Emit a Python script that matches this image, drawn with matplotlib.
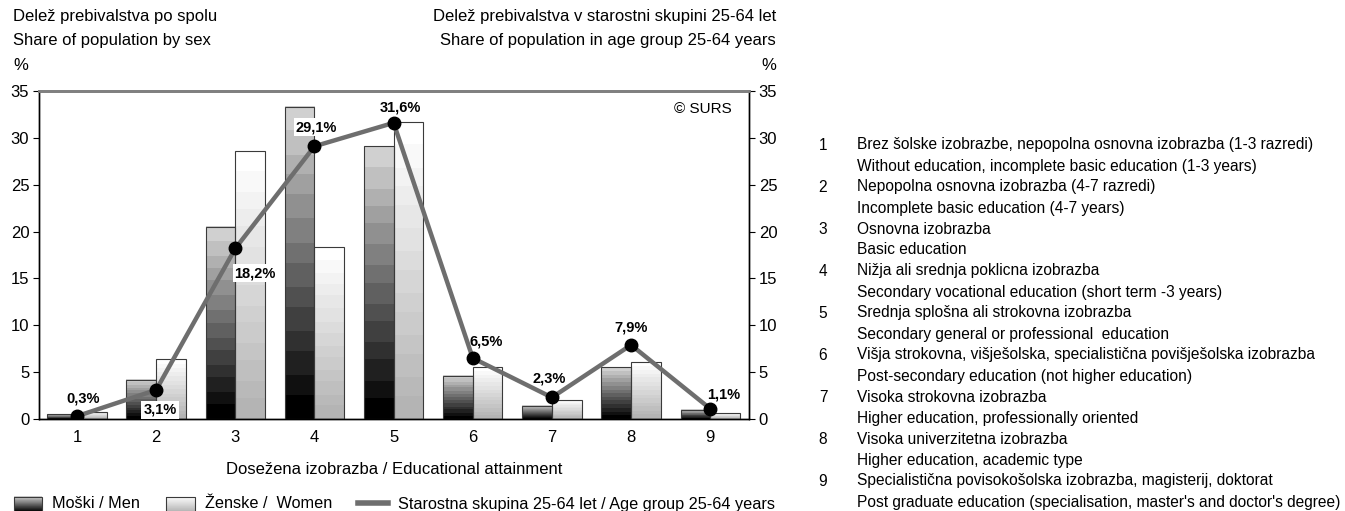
import numpy as np
import matplotlib
matplotlib.use("Agg")
import matplotlib.pyplot as plt
from matplotlib.colors import LinearSegmentedColormap
from matplotlib.patches import Rectangle
from matplotlib.lines import Line2D

plt.rcParams['font.family'] = ['Liberation Sans', 'DejaVu Sans']

# data
categories = [1, 2, 3, 4, 5, 6, 7, 8, 9]
men = [0.5, 4.2, 20.5, 33.3, 29.1, 4.6, 1.4, 5.5, 1.0]
women = [0.8, 6.4, 28.6, 18.4, 31.7, 5.5, 2.0, 6.1, 0.6]
age_group = [0.3, 3.1, 18.2, 29.1, 31.6, 6.5, 2.3, 7.9, 1.1]
age_labels = ['0,3%', '3,1%', '18,2%', '29,1%', '31,6%', '6,5%', '2,3%', '7,9%', '1,1%']
label_offsets = [(6, 18), (4, -20), (20, -25), (2, 19), (7, 15), (13, 17), (-3, 19), (0, 17), (13, 14)]
label_boxed = [False, True, True, True, False, False, False, False, False]

legend_items = [
    ('Brez šolske izobrazbe, nepopolna osnovna izobrazba (1-3 razredi)',
     'Without education, incomplete basic education (1-3 years)'),
    ('Nepopolna osnovna izobrazba (4-7 razredi)',
     'Incomplete basic education (4-7 years)'),
    ('Osnovna izobrazba', 'Basic education'),
    ('Nižja ali srednja poklicna izobrazba',
     'Secondary vocational education (short term -3 years)'),
    ('Srednja splošna ali strokovna izobrazba',
     'Secondary general or professional  education'),
    ('Višja strokovna, višješolska, specialistična povišješolska izobrazba',
     'Post-secondary education (not higher education)'),
    ('Visoka strokovna izobrazba', 'Higher education, professionally oriented'),
    ('Visoka univerzitetna izobrazba', 'Higher education, academic type'),
    ('Specialistična povisokošolska izobrazba, magisterij, doktorat',
     "Post graduate education (specialisation, master's and doctor's degree)"),
]

men_cmap = LinearSegmentedColormap.from_list('men', ['#000000', '#d0d0d0'], N=14)
women_cmap = LinearSegmentedColormap.from_list('women', ['#b4b4b4', '#ffffff'], N=14)
grad = np.linspace(0, 1, 64).reshape(-1, 1)
fs = 12


def gradient_bar(ax, x0, w, h, cmap):
    ax.imshow(grad, cmap=cmap, extent=[x0, x0 + w, 0, h], origin='lower',
              aspect='auto', interpolation='nearest', zorder=2)
    ax.add_patch(Rectangle((x0, 0), w, h, fill=False, ec='#3a3a3a', lw=0.8, zorder=3))


W, H = 1345, 511
fig = plt.figure(figsize=(W / 100, H / 100), dpi=100)
ax = fig.add_axes([39 / W, 1 - 419 / H, 710 / W, 328 / H])

bw = 0.375
for x, m, f in zip(categories, men, women):
    gradient_bar(ax, x - bw, bw, m, men_cmap)
    gradient_bar(ax, x, bw, f, women_cmap)

ax.set_xlim(0.52, 9.49)
ax.set_ylim(0, 35)
ax.set_yticks(range(0, 36, 5))
ax.set_xticks(categories)
ax.tick_params(axis='x', length=0, pad=8, labelsize=fs)
ax.tick_params(axis='y', length=4, direction='out', labelsize=fs, pad=3)
ax.set_xlabel('Dosežena izobrazba / Educational attainment', fontsize=fs, labelpad=12)

ax2 = ax.twinx()
ax2.set_ylim(0, 35)
ax2.set_yticks(range(0, 36, 5))
ax2.tick_params(axis='y', length=4, direction='out', labelsize=fs, pad=3)
ax2.plot(categories, age_group, color='#6e6e6e', lw=3.2, marker='o', ms=9,
         mfc='black', mec='black', zorder=4, solid_joinstyle='miter')
for x, y, t, off, boxed in zip(categories, age_group, age_labels, label_offsets, label_boxed):
    bbox = dict(fc='white', ec='none', pad=1.5) if boxed else None
    ax2.annotate(t, (x, y), xytext=off, textcoords='offset pixels',
                 ha='center', va='center', fontsize=10.5, fontweight='bold',
                 bbox=bbox, zorder=5)

for a in (ax, ax2):
    a.spines['top'].set_color('#808080')
    a.spines['top'].set_linewidth(2)
    a.spines['left'].set_linewidth(1)
    a.spines['right'].set_linewidth(1)
    a.spines['bottom'].set_linewidth(1)

ax2.text(0.975, 0.945, '© SURS', transform=ax2.transAxes, ha='right', va='center', fontsize=11)

# header texts
fig.text(13 / W, 1 - 17 / H, 'Delež prebivalstva po spolu', fontsize=fs, va='center')
fig.text(13 / W, 1 - 40 / H, 'Share of population by sex', fontsize=fs, va='center')
fig.text(13 / W, 1 - 65 / H, '%', fontsize=fs, va='center')
fig.text(776 / W, 1 - 17 / H, 'Delež prebivalstva v starostni skupini 25-64 let', fontsize=fs, va='center', ha='right')
fig.text(776 / W, 1 - 40 / H, 'Share of population in age group 25-64 years', fontsize=fs, va='center', ha='right')
fig.text(776 / W, 1 - 65 / H, '%', fontsize=fs, va='center', ha='right')

# bottom legend + right-hand key, drawn in pixel coordinates
lax = fig.add_axes([0, 0, 1, 1], facecolor='none')
lax.axis('off')
lfs = 11.7
lax.imshow(grad, cmap=men_cmap, extent=[14, 42, 512, 497], origin='lower', aspect='auto')
lax.add_patch(Rectangle((14, 497), 28, 16, fill=False, ec='#3a3a3a', lw=0.8))
lax.text(52, 504, 'Moški / Men', fontsize=lfs, va='center')
lax.imshow(grad, cmap=women_cmap, extent=[166, 195, 512, 497], origin='lower', aspect='auto')
lax.add_patch(Rectangle((166, 497), 29, 16, fill=False, ec='#3a3a3a', lw=0.8))
lax.text(205, 504, 'Ženske /  Women', fontsize=lfs, va='center')
lax.add_line(Line2D([358, 388], [503, 503], color='#6e6e6e', lw=4))
lax.text(398, 504, 'Starostna skupina 25-64 let / Age group 25-64 years', fontsize=lfs, va='center')

kfs = 11.2
y0, dy = 145, 21
for i, (sl, en) in enumerate(legend_items):
    y = y0 + 2 * i * dy
    lax.text(823, y, str(i + 1), fontsize=kfs, va='center', ha='center')
    lax.text(857, y, sl, fontsize=kfs, va='center')
    lax.text(857, y + dy, en, fontsize=kfs, va='center')

lax.set_xlim(0, W)
lax.set_ylim(H, 0)

fig.savefig('out.png', dpi=100)
